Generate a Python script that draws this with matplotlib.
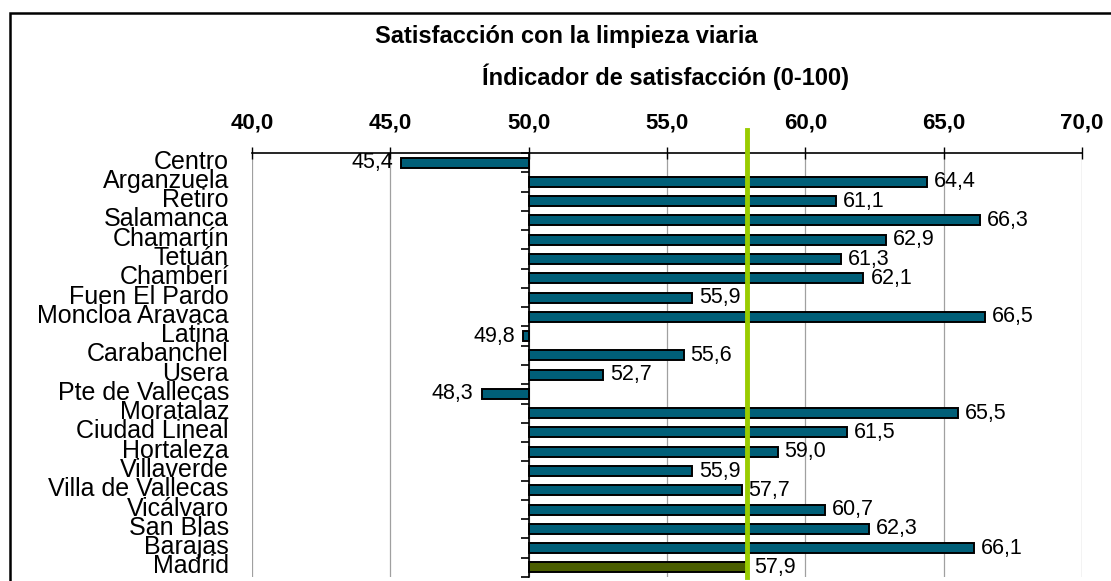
import matplotlib
matplotlib.use("Agg")
import matplotlib.pyplot as plt
import numpy as np
from matplotlib.patches import Rectangle
import matplotlib.transforms as mtransforms

plt.rcParams['font.family'] = ['Liberation Sans', 'DejaVu Sans']

districts = ["Centro", "Arganzuela", "Retiro", "Salamanca", "Chamartín", "Tetuán",
             "Chamberí", "Fuen El Pardo", "Moncloa Aravaca", "Latina", "Carabanchel",
             "Usera", "Pte de Vallecas", "Moratalaz", "Ciudad Lineal", "Hortaleza",
             "Villaverde", "Villa de Vallecas", "Vicálvaro", "San Blas", "Barajas", "Madrid"]
values = [45.4, 64.4, 61.1, 66.3, 62.9, 61.3, 62.1, 55.9, 66.5, 49.8, 55.6, 52.7,
          48.3, 65.5, 61.5, 59.0, 55.9, 57.7, 60.7, 62.3, 66.1, 57.9]
x_ticks = [40, 45, 50, 55, 60, 65, 70]
base = 50.0
madrid_value = values[-1]

title = "Satisfacción con la limpieza viaria"
subtitle = "Índicador de satisfacción (0-100)"

W, H = 1111, 581
fig = plt.figure(figsize=(W / 100, H / 100), dpi=100)
ax = fig.add_axes([252 / W, 1 - 577 / H, (1082 - 252) / W, (577 - 153) / H])

n = len(districts)
ypos = np.arange(n)
colors = ["#005F78"] * (n - 1) + ["#4B5E00"]
widths = [v - base for v in values]
ax.barh(ypos, widths, left=base, height=0.52, color=colors, edgecolor="black",
        linewidth=1.4, zorder=3)

ax.set_xlim(x_ticks[0], x_ticks[-1])
ax.set_ylim(n - 0.5, -0.5)

# x axis on top
ax.xaxis.set_ticks_position("top")
ax.set_xticks(x_ticks)
ax.set_xticklabels([f"{t:.1f}".replace(".", ",") for t in x_ticks],
                   fontsize=16, fontweight="bold")
ax.tick_params(axis="x", direction="inout", length=8, width=1, pad=10)
ax.grid(axis="x", color="#A0A0A0", linewidth=0.9, zorder=0)

# category axis at 50
ax.spines["left"].set_position(("data", base))
ax.spines["left"].set_zorder(4)
ax.spines["right"].set_visible(False)
ax.spines["bottom"].set_visible(False)
ax.spines["top"].set_linewidth(1.2)
ax.spines["left"].set_linewidth(1.2)
ax.set_yticks(np.arange(-0.5, n, 1))
ax.set_yticklabels([])
ax.tick_params(axis="y", direction="out", length=6, width=1.2)

# category labels
trans = mtransforms.blended_transform_factory(ax.transAxes, ax.transData)
for y, name in zip(ypos, districts):
    ax.text(-23 / 830, y - 0.05, name, transform=trans, ha="right", va="center",
            fontsize=18, clip_on=False)

# value labels
for y, v in zip(ypos, values):
    s = f"{v:.1f}".replace(".", ",")
    if v >= base:
        ax.annotate(s, (v, y), xytext=(5, 0), textcoords="offset points",
                    ha="left", va="center", fontsize=15.5, zorder=5)
    else:
        ax.annotate(s, (v, y), xytext=(-6, 0), textcoords="offset points",
                    ha="right", va="center", fontsize=15.5, zorder=5)

# Madrid reference line
ax.axvline(madrid_value, ymin=0, ymax=1 + 23 / 424, color="#99CC00", linewidth=3.5,
           clip_on=False, zorder=6)

# titles
fig.text(566 / W, 1 - 37 / H, title, ha="center", va="center", fontsize=17,
         fontweight="bold")
fig.text(666 / W, 1 - 77 / H, subtitle, ha="center", va="center", fontsize=17,
         fontweight="bold")

# chart border
fig.patches.append(Rectangle((10 / W, -0.05), 1.2, (1 - 13 / H) + 0.05,
                             transform=fig.transFigure, fill=False,
                             edgecolor="black", linewidth=1.8))

fig.savefig("out.png", dpi=100)
